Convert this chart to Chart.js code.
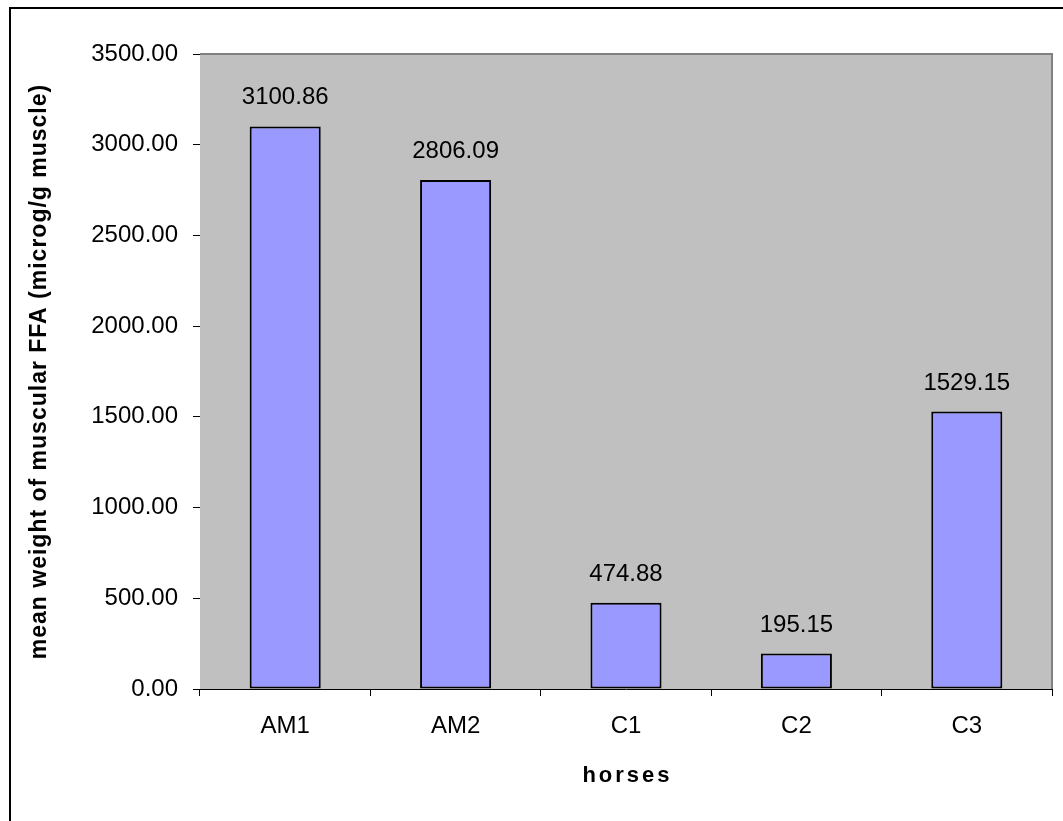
<!DOCTYPE html>
<html>
<head>
<meta charset="utf-8">
<title>Muscular FFA by horse</title>
<script src="https://cdn.jsdelivr.net/npm/chart.js@4.4.1/dist/chart.umd.min.js"></script>
<style>
  html, body { margin: 0; padding: 0; background: #ffffff; }
  #wrap { position: relative; width: 1063px; height: 821px; }
  canvas { display: block; }
</style>
</head>
<body>
<div id="wrap"><canvas id="chart" width="1063" height="821"></canvas></div>
<script>
// Horses sampled and their mean muscular free fatty acid content
const horses = ['AM1', 'AM2', 'C1', 'C2', 'C3'];
const meanFFA = [3100.86, 2806.09, 474.88, 195.15, 1529.15];

const yMin = 0;
const yMax = 3500;
const yStep = 500;

const xTitle = 'horses';
const yTitle = 'mean weight of muscular FFA (microg/g muscle)';

const FONT = '"Liberation Sans", Arial, Helvetica, sans-serif';

// Grey plot background, grey top/right frame and the outer chart border
const plotFrame = {
  id: 'plotFrame',
  beforeDatasetsDraw(chart) {
    const { ctx, chartArea: a } = chart;
    ctx.save();
    ctx.fillStyle = '#c0c0c0';
    ctx.fillRect(a.left, a.top, a.right - a.left, a.bottom - a.top);
    ctx.strokeStyle = '#808080';
    ctx.lineWidth = 2;
    ctx.beginPath();
    ctx.moveTo(a.left, a.top);
    ctx.lineTo(a.right, a.top);
    ctx.lineTo(a.right, a.bottom);
    ctx.stroke();
    ctx.restore();
  },
  afterDraw(chart) {
    const { ctx } = chart;
    ctx.save();
    ctx.strokeStyle = '#000000';
    ctx.lineWidth = 2;
    ctx.beginPath();
    ctx.moveTo(10, chart.height + 2);
    ctx.lineTo(10, 8);
    ctx.lineTo(chart.width + 2, 8);
    ctx.stroke();
    ctx.restore();
  }
};

// Value labels above each bar
const valueLabels = {
  id: 'valueLabels',
  afterDatasetsDraw(chart) {
    const { ctx } = chart;
    const meta = chart.getDatasetMeta(0);
    ctx.save();
    ctx.font = '24px ' + FONT;
    ctx.fillStyle = '#000000';
    ctx.textAlign = 'center';
    ctx.textBaseline = 'alphabetic';
    meta.data.forEach((bar, i) => {
      const v = chart.data.datasets[0].data[i];
      ctx.fillText(v.toFixed(2), bar.x, bar.y - 22);
    });
    ctx.restore();
  }
};

// Axis titles
const axisTitles = {
  id: 'axisTitles',
  afterDraw(chart) {
    const { ctx, chartArea: a } = chart;
    ctx.save();
    ctx.fillStyle = '#000000';
    ctx.textAlign = 'center';
    ctx.textBaseline = 'alphabetic';
    ctx.font = 'bold 22px ' + FONT;
    if ('letterSpacing' in ctx) ctx.letterSpacing = '3px';
    ctx.fillText(xTitle, (a.left + a.right) / 2 + 1.5, 782);
    ctx.font = 'bold 23px ' + FONT;
    if ('letterSpacing' in ctx) ctx.letterSpacing = '1px';
    ctx.translate(46, (a.top + a.bottom) / 2);
    ctx.rotate(-Math.PI / 2);
    ctx.fillText(yTitle, 0, 0);
    ctx.restore();
  }
};

new Chart(document.getElementById('chart'), {
  type: 'bar',
  data: {
    labels: horses,
    datasets: [{
      data: meanFFA,
      backgroundColor: '#9999ff',
      borderColor: '#000000',
      borderWidth: 2,
      borderSkipped: false,
      categoryPercentage: 1,
      barPercentage: 0.417
    }]
  },
  options: {
    responsive: false,
    animation: false,
    devicePixelRatio: 1,
    layout: { padding: { left: 0, top: 54, right: 11, bottom: 0 } },
    plugins: {
      legend: { display: false },
      tooltip: { enabled: false },
      title: { display: false }
    },
    scales: {
      x: {
        afterFit(scale) { scale.height = 821 - 689; },
        grid: {
          offset: true,
          drawOnChartArea: false,
          drawTicks: true,
          tickLength: 7,
          tickColor: '#000000',
          tickWidth: 1
        },
        border: { display: true, color: '#000000', width: 1 },
        ticks: {
          color: '#000000',
          font: { family: FONT, size: 24 },
          padding: 16
        }
      },
      y: {
        min: yMin,
        max: yMax,
        afterFit(scale) { scale.width = 200; },
        grid: {
          drawOnChartArea: false,
          drawTicks: true,
          tickLength: 7,
          tickColor: '#000000',
          tickWidth: 1
        },
        border: { display: true, color: '#000000', width: 1 },
        ticks: {
          stepSize: yStep,
          color: '#000000',
          font: { family: FONT, size: 24 },
          padding: 15,
          callback: v => Number(v).toFixed(2)
        }
      }
    }
  },
  plugins: [plotFrame, valueLabels, axisTitles]
});
</script>
</body>
</html>
